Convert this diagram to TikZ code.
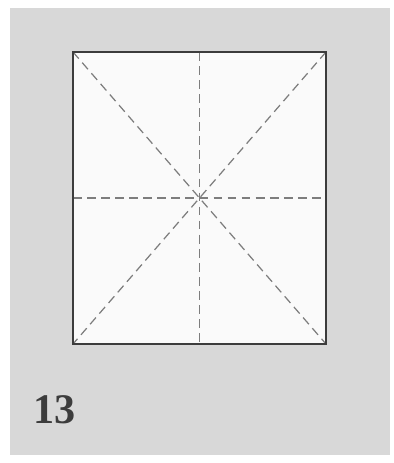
\documentclass[tikz,border=0pt]{standalone}
\usepackage{xcolor}
\usepackage{fontspec}
\usetikzlibrary{calc}
\newfontfamily\numfont{Liberation Serif}
\definecolor{panelgray}{RGB}{216,216,216}
\definecolor{sheetwhite}{RGB}{250,250,250}
\definecolor{edgegray}{RGB}{60,60,60}
\definecolor{creasegray}{RGB}{125,125,125}
\begin{document}
\begin{tikzpicture}[
  x=0.02cm, y=-0.02cm,
  panel/.style={fill=panelgray,draw=none},
  sheet/.style={fill=sheetwhite,draw=edgegray,line width=1.1pt},
  crease/.style={draw=creasegray,line width=0.7pt,dash pattern=on 5pt off 3pt},
  stepnum/.style={text=edgegray,font=\numfont\fontsize{24}{28}\selectfont\bfseries,inner sep=0pt,anchor=base west}
]
\useasboundingbox (0,0) rectangle (393,463);
\fill[white] (0,0) rectangle (393,463);
\path[panel] (10,8) rectangle (390,455);
% paper square
\coordinate (tl) at (73,52);
\coordinate (br) at (326,344);
\coordinate (tr) at (br |- tl);
\coordinate (bl) at (tl |- br);
\coordinate (mid) at ($(tl)!0.5!(br)$);
\path[sheet] (tl) rectangle (br);
% creases
\draw[crease] (tl) -- (br);
\draw[crease] (tr) -- (bl);
\draw[crease] ($(tl)!0.5!(tr)$) -- ($(bl)!0.5!(br)$);
\draw[crease] ($(tl)!0.5!(bl)$) -- ($(tr)!0.5!(br)$);
\draw[sheet,fill=none] (tl) rectangle (br);
\node[stepnum] (num) at (33,423) {13};
\end{tikzpicture}
\end{document}
